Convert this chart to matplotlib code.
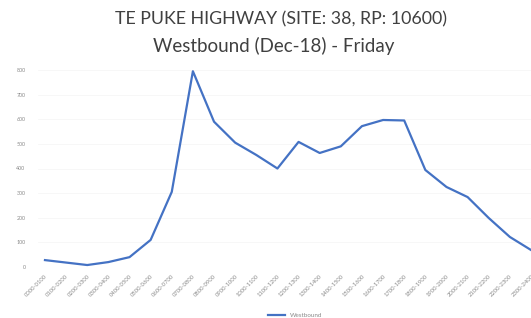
import matplotlib.pyplot as plt

# hourly volumes, westbound, Friday
hours = ['0000-0100', '0100-0200', '0200-0300', '0300-0400', '0400-0500', '0500-0600',
         '0600-0700', '0700-0800', '0800-0900', '0900-1000', '1000-1100', '1100-1200',
         '1200-1300', '1300-1400', '1400-1500', '1500-1600', '1600-1700', '1700-1800',
         '1800-1900', '1900-2000', '2000-2100', '2100-2200', '2200-2300', '2300-2400']
volumes = [28, 18, 8, 20, 40, 110, 305, 795, 590, 505, 455, 400,
           508, 463, 490, 572, 597, 595, 394, 325, 284, 199, 122, 69]
yticks = [0, 100, 200, 300, 400, 500, 600, 700, 800]

plt.rcParams['font.family'] = ['Lato', 'DejaVu Sans']

fig = plt.figure(figsize=(5.31, 3.18), dpi=100)
ax = fig.add_axes([38 / 531, 51 / 318, (531 - 38) / 531, 197 / 318])

x = range(len(hours))
ax.plot(x, volumes, color='#4472C4', lw=1.6, clip_on=False, label='Westbound')

ax.set_xlim(-0.33, 23)
ax.set_ylim(0, 800)
ax.set_xticks(list(x))
ax.set_xticklabels(hours, rotation=45, ha='right', rotation_mode='anchor',
                   fontsize=4.2, color='#8a8a8a')
ax.set_yticks(yticks)
ax.set_yticklabels([str(v) for v in yticks], fontsize=3.8, color='#8a8a8a')
ax.tick_params(axis='y', length=0, pad=9)
ax.tick_params(axis='x', length=0, pad=5)
for s in ax.spines.values():
    s.set_visible(False)
ax.grid(axis='y', color='#f4f4f4', lw=0.5)
ax.set_axisbelow(True)

fig.text(0.53, 0.94, 'TE PUKE HIGHWAY (SITE: 38, RP: 10600)', ha='center', va='center',
         fontsize=12.8, color='#404040')
fig.text(0.515, 0.855, 'Westbound (Dec-18) - Friday', ha='center', va='center',
         fontsize=13.5, color='#404040')

fig.legend(loc='upper left', bbox_to_anchor=(262 / 531, 11 / 318), frameon=False,
           fontsize=4.5, handlelength=2.8, labelcolor='#8a8a8a')

fig.savefig('out.png', dpi=100)
